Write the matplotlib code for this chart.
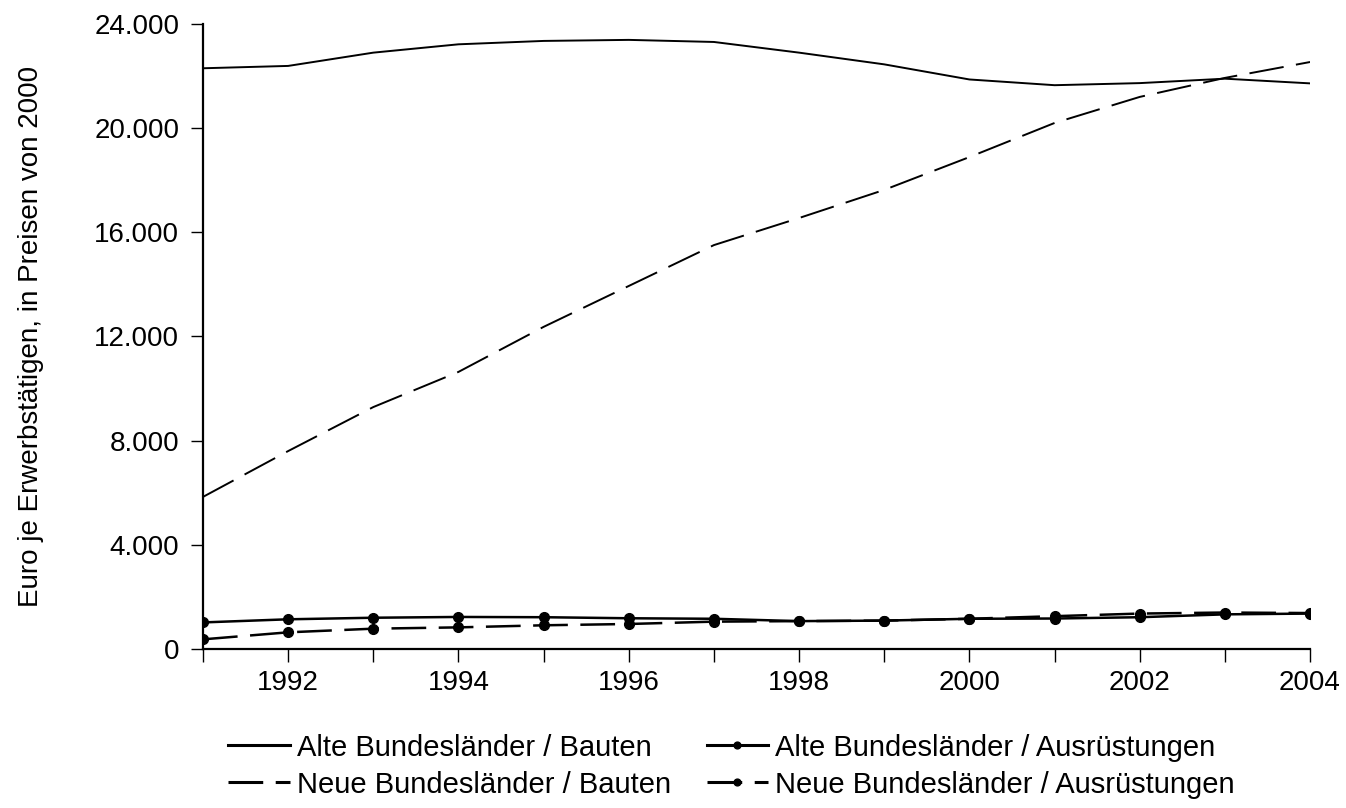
import numpy as np
from matplotlib import pyplot as plt
from matplotlib.ticker import FuncFormatter, MultipleLocator, FixedLocator

plt.rcParams['font.family'] = ['Liberation Sans', 'DejaVu Sans']
plt.rcParams['lines.scale_dashes'] = False

years = list(range(1991, 2005))

alte_bauten = [22300, 22390, 22900, 23220, 23350, 23390, 23310, 22900, 22450, 21870, 21650, 21730, 21900, 21720]
neue_bauten = [5840, 7600, 9290, 10640, 12370, 13940, 15510, 16550, 17630, 18890, 20200, 21200, 21930, 22540]
alte_ausr = [1020, 1140, 1200, 1230, 1220, 1180, 1160, 1070, 1090, 1160, 1170, 1220, 1330, 1360]
neue_ausr = [370, 640, 780, 830, 910, 960, 1050, 1070, 1090, 1160, 1260, 1360, 1400, 1380]

labels = ["Alte Bundesländer / Bauten", "Alte Bundesländer / Ausrüstungen",
          "Neue Bundesländer / Bauten", "Neue Bundesländer / Ausrüstungen"]

fig = plt.figure(figsize=(13.46, 8.08), dpi=100)
ax = fig.add_axes([0.1508, 0.1968, 0.8225, 0.7735])

dash = (0, (25, 9))
l1, = ax.plot(years, alte_bauten, color="black", lw=1.4)
l3, = ax.plot(years, neue_bauten, color="black", lw=1.4, linestyle=dash)
l2, = ax.plot(years, alte_ausr, color="black", lw=1.8, marker="o", markersize=7)
l4, = ax.plot(years, neue_ausr, color="black", lw=1.8, marker="o", markersize=7, linestyle=dash)

ax.set_xlim(1991, 2004)
ax.set_ylim(0, 24000)
ax.xaxis.set_major_locator(FixedLocator(years))
ax.set_xticklabels([str(y) if y % 2 == 0 else "" for y in years])
ax.yaxis.set_major_locator(MultipleLocator(4000))
ax.yaxis.set_major_formatter(FuncFormatter(lambda v, p: f"{int(v):,}".replace(",", ".")))

for s in ["top", "right"]:
    ax.spines[s].set_visible(False)
for s in ["left", "bottom"]:
    ax.spines[s].set_linewidth(1.6)
ax.tick_params(axis="both", labelsize=20, width=1.0, length=9, direction="out")
ax.tick_params(axis="x", pad=6)
ax.tick_params(axis="y", pad=8)

ax.set_ylabel("Euro je Erwerbstätigen, in Preisen von 2000", fontsize=20)
ax.yaxis.set_label_coords(-0.1436, 0.5)

# legend order: matplotlib fills column by column
handles = [l1, l3, l2, l4]
names = [labels[0], labels[2], labels[1], labels[3]]
leg = fig.legend(handles, names, loc="upper left", bbox_to_anchor=(0.1694, 0.092),
                 ncol=2, frameon=False, fontsize=21, handlelength=2.12, handletextpad=0.24,
                 columnspacing=1.22, labelspacing=0.31, numpoints=1, markerscale=0.7,
                 borderaxespad=0, borderpad=0)
for h in leg.legend_handles:
    h.set_linewidth(2.2)

plt.savefig("out.png", dpi=100)
